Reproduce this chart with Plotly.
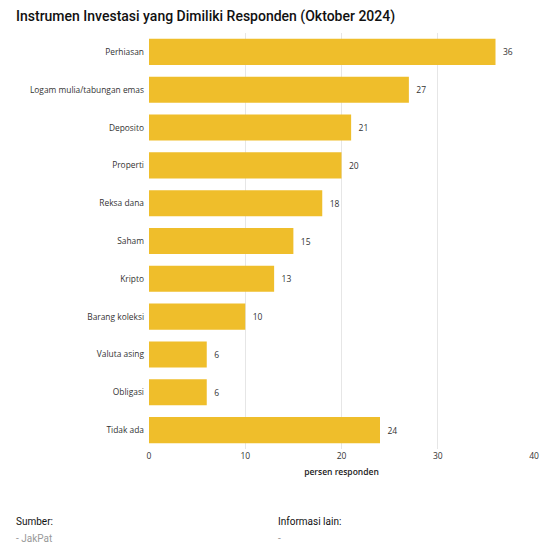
import plotly.graph_objects as go

categories = ["Perhiasan", "Logam mulia/tabungan emas", "Deposito", "Properti",
              "Reksa dana", "Saham", "Kripto", "Barang koleksi", "Valuta asing",
              "Obligasi", "Tidak ada"]
values = [36, 27, 21, 20, 18, 15, 13, 10, 6, 6, 24]
x_ticks = [0, 10, 20, 30, 40]

# page body has an 8px offset; figure sized accordingly
W, H = 542, 542
L, R, T, B = 141, 16, 25, 101
PW, PH = W - L - R, H - T - B


def px(sx):
    return (sx - 8 - L) / PW


def py(sy):
    return (H - B - (sy - 8)) / PH


fig = go.Figure(go.Bar(
    x=values, y=categories, orientation="h",
    marker=dict(color="#EFBE2B", line=dict(width=0)),
    text=["\u00a0\u00a0" + str(v) for v in values], textposition="outside",
    textfont=dict(size=8.5, color="#333333", family="Open Sans"),
    cliponaxis=False,
))

fig.update_layout(
    width=W, height=H,
    paper_bgcolor="white", plot_bgcolor="white",
    margin=dict(l=L, r=R, t=T, b=B, autoexpand=False),
    bargap=0.31,
    showlegend=False,
    title=dict(text="Instrumen Investasi yang Dimiliki Responden (Oktober 2024)",
               x=8 / W, xanchor="left", y=1 - 8 / H, yanchor="middle",
               font=dict(family="Roboto", size=14, color="#111111", weight=500)),
    font=dict(family="Open Sans", size=8.4, color="#333333"),
)
fig.update_xaxes(range=[0, 40], tickvals=x_ticks, showgrid=True, gridcolor="#E6E6E6",
                 gridwidth=1, zeroline=False, showline=False,
                 tickfont=dict(size=8.5, color="#333333"),
                 title=dict(text="persen responden",
                            font=dict(size=8.5, color="#222222", weight=600), standoff=9))
fig.update_yaxes(autorange="reversed", categoryorder="array", categoryarray=categories,
                 showgrid=False, ticks="", ticklabelstandoff=4,
                 tickfont=dict(size=8.4, color="#333333"))

footer = [("Sumber:", 14, 521, "#111111"), ("- JakPat", 14, 538, "#999999"),
          ("Informasi lain:", 276, 521, "#111111"), ("-", 276, 538, "#999999")]
for txt, sx, sy, col in footer:
    fig.add_annotation(text=txt, x=px(sx), y=py(sy), xref="paper", yref="paper",
                       xanchor="left", yanchor="middle", showarrow=False,
                       font=dict(family="Roboto", size=10, color=col))

fig.write_html("out.html")
